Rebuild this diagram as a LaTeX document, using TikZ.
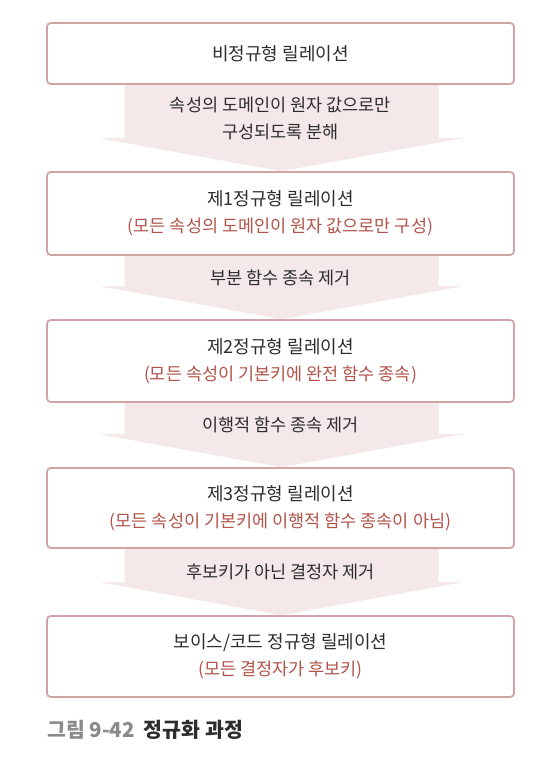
\documentclass[tikz,border=0pt]{standalone}
\usepackage{fontspec}
\setmainfont{Noto Sans CJK KR}
\usetikzlibrary{calc}
\definecolor{boxline}{RGB}{208,164,164}
\definecolor{arrowfill}{RGB}{244,232,232}
\definecolor{txt}{RGB}{45,45,45}
\definecolor{redtxt}{RGB}{178,84,74}
\definecolor{captiongray}{RGB}{138,138,138}
\newcommand\redline[1]{{\fontsize{17.5}{27}\selectfont\textcolor{redtxt}{#1}}}
\begin{document}
\begin{tikzpicture}[x=1pt,y=-1pt,
  stagebox/.style={draw=boxline,line width=1.6pt,fill=white,rounded corners=4pt,
    minimum width=467pt,inner sep=0pt,align=center,text=txt,
    font=\fontsize{18}{27}\selectfont},
  arrowtext/.style={align=center,text=txt,font=\fontsize{17.5}{27}\selectfont}]
\useasboundingbox (0,0) rectangle (558,766);
\fill[white] (0,0) rectangle (558,766);
% boxes (placed first for anchors, then redrawn over arrows)
\path
 node[stagebox,minimum height=61pt] (b1) at (280.5,53.5) {비정규형 릴레이션}
 node[stagebox,minimum height=83pt] (b2) at (280.5,213.5) {제1정규형 릴레이션\\\redline{(모든 속성의 도메인이 원자 값으로만 구성)}}
 node[stagebox,minimum height=82pt] (b3) at (280.5,361) {제2정규형 릴레이션\\\redline{(모든 속성이 기본키에 완전 함수 종속)}}
 node[stagebox,minimum height=80pt] (b4) at (280.5,508) {제3정규형 릴레이션\\\redline{(모든 속성이 기본키에 이행적 함수 종속이 아님)}}
 node[stagebox,minimum height=81pt] (b5) at (280.5,656.5) {보이스/코드 정규형 릴레이션\\\redline{(모든 결정자가 후보키)}};
% fat arrows
\foreach \a/\b in {b1/b2,b2/b3,b3/b4,b4/b5}{
  \fill[arrowfill] ($(\a.south)+(-156,0)$) -- ($(\a.south)+(158,0)$)
    -- ($(\b.north)+(158,-33)$) -- ($(\b.north)+(182,-33)$)
    -- ($(\b.north)+(1,0)$) -- ($(\b.north)+(-181,-33)$)
    -- ($(\b.north)+(-156,-33)$) -- cycle;
}
% redraw boxes on top
\path
 node[stagebox,minimum height=61pt] at (b1) {비정규형 릴레이션}
 node[stagebox,minimum height=83pt] at (b2) {제1정규형 릴레이션\\\redline{(모든 속성의 도메인이 원자 값으로만 구성)}}
 node[stagebox,minimum height=82pt] at (b3) {제2정규형 릴레이션\\\redline{(모든 속성이 기본키에 완전 함수 종속)}}
 node[stagebox,minimum height=80pt] at (b4) {제3정규형 릴레이션\\\redline{(모든 속성이 기본키에 이행적 함수 종속이 아님)}}
 node[stagebox,minimum height=81pt] at (b5) {보이스/코드 정규형 릴레이션\\\redline{(모든 결정자가 후보키)}};
% arrow labels
\node[arrowtext] (t1) at ($(b1.south)+(0,34)$) {속성의 도메인이 원자 값으로만\\구성되도록 분해};
\node[arrowtext] (t2) at ($(b2.south)+(0,22)$) {부분 함수 종속 제거};
\node[arrowtext] (t3) at ($(b3.south)+(0,22)$) {이행적 함수 종속 제거};
\node[arrowtext] (t4) at ($(b4.south)+(0,23)$) {후보키가 아닌 결정자 제거};
% caption
\node[anchor=west,inner sep=0pt,font=\fontsize{20.5}{22}\selectfont\bfseries] (cap) at (47,730)
  {\textcolor{captiongray}{그림 9-42}\hspace{9pt}\textcolor{txt}{정규화 과정}};
\end{tikzpicture}
\end{document}
